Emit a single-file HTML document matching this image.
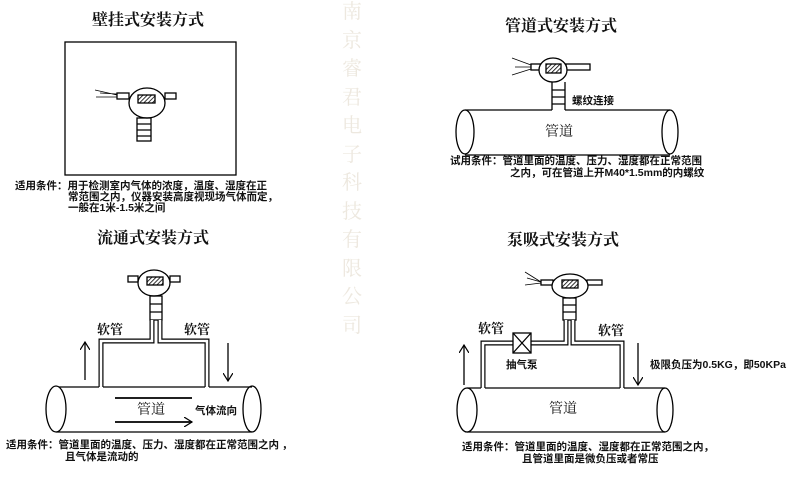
<!DOCTYPE html>
<html><head><meta charset="utf-8"><style>
html,body{margin:0;padding:0;background:#fff;width:792px;height:484px;overflow:hidden}
svg text{font-family:"Liberation Serif","Noto Serif CJK SC","Noto Sans CJK SC",serif;fill:#111}
.s{font-family:"Liberation Sans","Noto Sans CJK SC",sans-serif;font-weight:bold;font-size:10.5px}
svg .w text{fill:#ede8df;font-size:20px}
.t text{font-size:16px;font-weight:bold}
</style></head><body>
<svg width="792" height="484" viewBox="0 0 792 484" xmlns="http://www.w3.org/2000/svg">
<defs>
<pattern id="h" width="3" height="3" patternUnits="userSpaceOnUse" patternTransform="rotate(45)"><rect width="3" height="3" fill="#fff"/><line x1="0" y1="0" x2="0" y2="3" stroke="#000" stroke-width="1.6"/></pattern>
<marker id="a" markerWidth="10" markerHeight="10" refX="8" refY="5" orient="auto" markerUnits="userSpaceOnUse"><path d="M0,0 L8,5 L0,10" fill="none" stroke="#000" stroke-width="1.2"/></marker>
</defs>
<!-- watermark -->
<g class="w" text-anchor="middle">
<text x="352" y="18">南</text><text x="352" y="47">京</text><text x="352" y="75">睿</text><text x="352" y="104">君</text><text x="352" y="132">电</text><text x="352" y="161">子</text><text x="352" y="189">科</text><text x="352" y="218">技</text><text x="352" y="246">有</text><text x="352" y="275">限</text><text x="352" y="303">公</text><text x="352" y="332">司</text>
</g>
<g fill="none" stroke="#000" stroke-width="1.3">
<!-- Panel 1 -->
<rect x="65" y="42" width="171" height="133"/>
<rect x="117" y="93" width="12" height="6" fill="#fff"/><rect x="165" y="93" width="11" height="6" fill="#fff"/>
<path d="M95,90 L117,95 M96,97 L117,97 M100,93 L117,94" stroke-width="0.8"/>
<ellipse cx="147" cy="103" rx="18" ry="15" fill="#fff"/>
<rect x="138" y="95" width="17" height="8" fill="url(#h)"/>
<rect x="137" y="118" width="14" height="23"/><path d="M137,124h14M137,130h14M137,136h14"/>
<!-- Panel 2 -->
<rect x="531" y="64" width="10" height="6" fill="#fff"/><rect x="566" y="64" width="24" height="6" fill="#fff"/>
<path d="M512,58 L531,65 M512,75 L531,69 M515,67 L531,67" stroke-width="0.8"/>
<ellipse cx="553" cy="70" rx="14" ry="12" fill="#fff"/>
<rect x="546" y="64" width="15" height="9" fill="url(#h)"/>
<path d="M552,82 V110 M565,82 V110 M552,90h13 M552,97h13 M552,104h13"/>
<path d="M465,110 H552 M565,110 H670 M465,155 H670"/>
<ellipse cx="465" cy="132" rx="9" ry="22" fill="#fff"/><ellipse cx="670" cy="132" rx="8" ry="22"/>
<!-- Panel 3 -->
<rect x="128" y="276" width="10" height="6" fill="#fff"/><rect x="170" y="276" width="10" height="6" fill="#fff"/>
<ellipse cx="154" cy="283" rx="16" ry="13" fill="#fff"/>
<rect x="147" y="277" width="16" height="8" fill="url(#h)"/>
<rect x="150" y="296" width="12" height="24"/><path d="M150,304h12M150,312h12"/>
<path d="M152,320 V341 H101 V387 M160,320 V341 H207 V387" stroke-width="5"/>
<path d="M152,320 V341 H101 V387 M160,320 V341 H207 V387" stroke="#fff" stroke-width="2.6"/>
<path d="M55,387 H99 M103,387 H205 M209,387 H252 M56,432 H252"/>
<ellipse cx="56" cy="409" rx="10" ry="23" fill="#fff"/><ellipse cx="252" cy="409" rx="9" ry="23"/>
<path d="M85,380 V342" marker-end="url(#a)"/><path d="M228,343 V381" marker-end="url(#a)"/>
<path d="M115,398 H192 M115,422 H192" stroke-width="1.8" marker-end="url(#a)"/>
<!-- Panel 4 -->
<rect x="541" y="280" width="12" height="5" fill="#fff"/><rect x="587" y="280" width="15" height="5" fill="#fff"/>
<path d="M525,272 L541,282 M525,285 L541,283 M527,278 L541,282" stroke-width="0.8"/>
<ellipse cx="570" cy="286" rx="18" ry="12" fill="#fff"/>
<rect x="562" y="280" width="16" height="8" fill="url(#h)"/>
<rect x="563" y="298" width="13" height="22"/><path d="M563,305h13M563,312h13"/>
<path d="M566,320 V343 H483 V388 M573,320 V343 H622 V388" stroke-width="5"/>
<path d="M566,320 V343 H483 V388 M573,320 V343 H622 V388" stroke="#fff" stroke-width="2.6"/>
<rect x="513" y="333" width="18" height="20" fill="#fff"/><path d="M513,333 L531,353 M531,333 L513,353"/>
<path d="M467,388 H481 M485,388 H620 M624,388 H665 M467,432 H665"/>
<ellipse cx="467" cy="410" rx="10" ry="22" fill="#fff"/><ellipse cx="665" cy="410" rx="8" ry="22"/>
<path d="M464,385 V345" marker-end="url(#a)"/><path d="M638,343 V385" marker-end="url(#a)"/>
</g>
<!-- titles -->
<g class="t">
<text x="92" y="25">壁挂式安装方式</text>
<text x="505" y="31">管道式安装方式</text>
<text x="97" y="243">流通式安装方式</text>
<text x="507" y="245">泵吸式安装方式</text>
</g>
<!-- labels -->
<text x="572" y="104" class="s">螺纹连接</text>
<text x="545" y="136" font-size="14">管道</text>
<text x="97" y="334" font-size="13" font-weight="bold">软管</text>
<text x="184" y="334" font-size="13" font-weight="bold">软管</text>
<text x="137" y="414" font-size="14">管道</text>
<text x="195" y="414" class="s">气体流向</text>
<text x="478" y="333" font-size="13" font-weight="bold">软管</text>
<text x="598" y="335" font-size="13" font-weight="bold">软管</text>
<text x="506" y="368" class="s">抽气泵</text>
<text x="650" y="368" class="s" font-size="10">极限负压为0.5KG，即50KPa</text>
<text x="549" y="413" font-size="14">管道</text>
<!-- conditions -->
<text x="15" y="189" class="s">适用条件：用于检测室内气体的浓度，温度、湿度在正</text>
<text x="68" y="200" class="s">常范围之内，仪器安装高度视现场气体而定，</text>
<text x="68" y="211" class="s">一般在1米-1.5米之间</text>
<text x="450" y="164" class="s">试用条件：管道里面的温度、压力、湿度都在正常范围</text>
<text x="510" y="176" class="s">之内，可在管道上开M40*1.5mm的内螺纹</text>
<text x="6" y="448" class="s">适用条件：管道里面的温度、压力、湿度都在正常范围之内 ，</text>
<text x="65" y="460" class="s">且气体是流动的</text>
<text x="462" y="450" class="s">适用条件：管道里面的温度、湿度都在正常范围之内，</text>
<text x="522" y="462" class="s">且管道里面是微负压或者常压</text>
</svg>
</body></html>
